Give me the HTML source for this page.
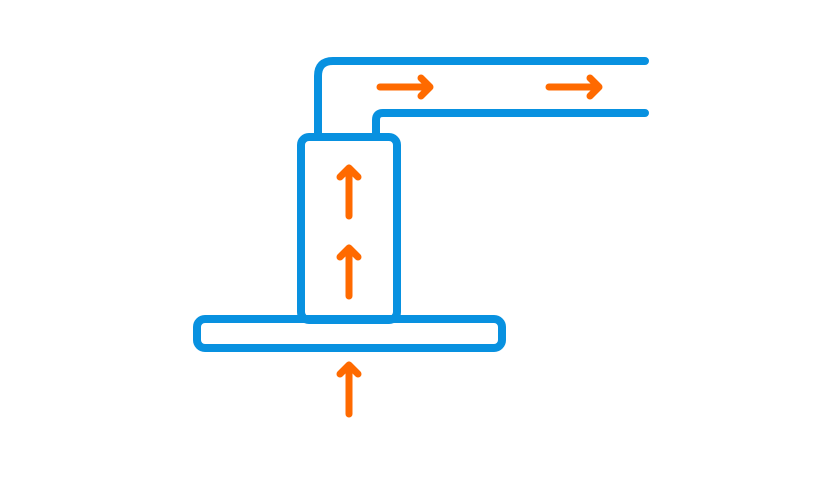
<!DOCTYPE html>
<html><head><style>html,body{margin:0;padding:0;background:#fff}</style></head>
<body>
<svg width="840" height="473" viewBox="0 0 840 473" xmlns="http://www.w3.org/2000/svg">
<g fill="none" stroke="#0891e0" stroke-width="8" stroke-linecap="round" stroke-linejoin="round">
<path d="M318 133 V76 Q318 61 333 61 H645"/>
<path d="M376 133 V120 Q376 113 383 113 H645"/>
<rect x="301" y="137" width="96" height="183" rx="8"/>
<rect x="197" y="319" width="305" height="29" rx="8"/>
</g>
<g fill="none" stroke="#ff6a00" stroke-width="7" stroke-linecap="round" stroke-linejoin="round">
<path d="M380 87 H430 M421 78 L430 87 L421 96"/>
<path d="M549 87 H599 M590 78 L599 87 L590 96"/>
<path d="M349 216 V168 M340 177 L349 168 L358 177"/>
<path d="M349 296 V248 M340 257 L349 248 L358 257"/>
<path d="M349 414 V365 M340 374 L349 365 L358 374"/>
</g>
</svg>
</body></html>
